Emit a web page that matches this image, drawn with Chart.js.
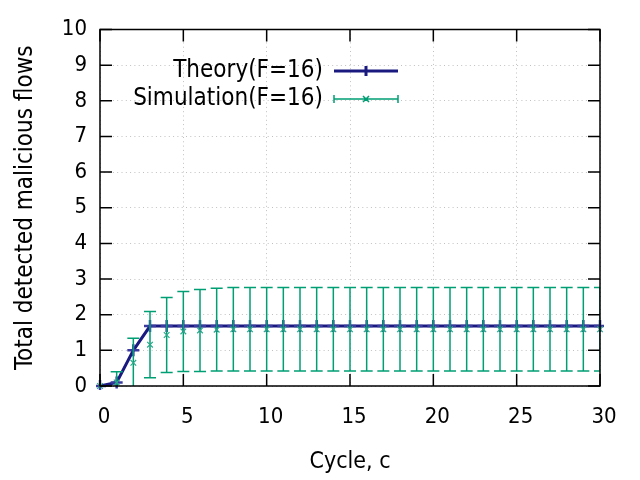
<!DOCTYPE html>
<html>
<head>
<meta charset="utf-8">
<script src="https://cdn.jsdelivr.net/npm/chart.js@4"></script>
<style>
  html, body { margin: 0; padding: 0; background: #fff; }
  #wrap { width: 640px; height: 480px; position: relative; }
</style>
</head>
<body>
<div id="wrap"><canvas id="chart"></canvas></div>
<script>
// data
const cycles = [0, 1, 2, 3, 4, 5, 6, 7, 8, 9, 10, 11, 12, 13, 14, 15,
    16, 17, 18, 19, 20, 21, 22, 23, 24, 25, 26, 27, 28, 29, 30];
const theory = [0, 0.1, 1.0, 1.68, 1.68, 1.68, 1.68, 1.68, 1.68, 1.68, 1.68,
    1.68, 1.68, 1.68, 1.68, 1.68, 1.68, 1.68, 1.68, 1.68, 1.68, 1.68, 1.68,
    1.68, 1.68, 1.68, 1.68, 1.68, 1.68, 1.68, 1.68];
const simMean = [0, 0.1, 0.65, 1.16, 1.43, 1.53, 1.56, 1.58, 1.59, 1.59, 1.59,
    1.59, 1.59, 1.59, 1.59, 1.59, 1.59, 1.59, 1.59, 1.59, 1.59, 1.59, 1.59,
    1.59, 1.59, 1.59, 1.59, 1.59, 1.59, 1.59, 1.59];
const simErr = [0, 0.3, 0.69, 0.93, 1.05, 1.12, 1.15, 1.16, 1.17, 1.17, 1.17,
    1.17, 1.17, 1.17, 1.17, 1.17, 1.17, 1.17, 1.17, 1.17, 1.17, 1.17, 1.17,
    1.17, 1.17, 1.17, 1.17, 1.17, 1.17, 1.17, 1.17];
const xTicks = [0, 5, 10, 15, 20, 25, 30];
const yTicks = [0, 1, 2, 3, 4, 5, 6, 7, 8, 9, 10];

const FONT = '"DejaVu Sans Condensed", "DejaVu Sans", sans-serif';
const BLUE = '#191980';
const GREEN = '#009e73';

// error bars for the simulation series
const errorBars = {
    id: 'errorBars',
    beforeDatasetDraw(chart, args) {
        if (args.index !== 1) return;
        const ctx = chart.ctx;
        const x = chart.scales.x;
        const y = chart.scales.y;
        const area = chart.chartArea;
        ctx.save();
        ctx.beginPath();
        ctx.rect(area.left, area.top, area.right - area.left, area.bottom - area.top);
        ctx.clip();
        ctx.strokeStyle = GREEN;
        ctx.lineWidth = 1.5;
        cycles.forEach((c, i) => {
            const px = x.getPixelForValue(c);
            const hi = y.getPixelForValue(simMean[i] + simErr[i]);
            const lo = y.getPixelForValue(simMean[i] - simErr[i]);
            ctx.beginPath();
            ctx.moveTo(px, hi); ctx.lineTo(px, lo);
            ctx.moveTo(px - 6, hi); ctx.lineTo(px + 6, hi);
            ctx.moveTo(px - 6, lo); ctx.lineTo(px + 6, lo);
            ctx.stroke();
        });
        ctx.restore();
    }
};

// gnuplot style frame with inward ticks on all four sides
const frame = {
    id: 'frame',
    afterDatasetsDraw(chart) {
        const ctx = chart.ctx;
        const a = chart.chartArea;
        const x = chart.scales.x;
        const y = chart.scales.y;
        ctx.save();
        ctx.strokeStyle = '#000';
        ctx.lineWidth = 1.5;
        ctx.beginPath();
        xTicks.forEach(v => {
            const px = x.getPixelForValue(v);
            ctx.moveTo(px, a.bottom); ctx.lineTo(px, a.bottom - 12);
            ctx.moveTo(px, a.top); ctx.lineTo(px, a.top + 12);
        });
        yTicks.forEach(v => {
            const py = y.getPixelForValue(v);
            ctx.moveTo(a.left, py); ctx.lineTo(a.left + 12, py);
            ctx.moveTo(a.right, py); ctx.lineTo(a.right - 12, py);
        });
        ctx.stroke();
        ctx.strokeRect(a.left, a.top, a.right - a.left, a.bottom - a.top);
        ctx.restore();
    }
};

// legend: text right aligned, sample to the right
const keyBox = {
    id: 'keyBox',
    afterDraw(chart) {
        const ctx = chart.ctx;
        const tx = 323, x0 = 334, x1 = 398, xm = 366;
        ctx.save();
        ctx.font = '24px ' + FONT;
        ctx.fillStyle = '#000';
        ctx.textAlign = 'right';
        ctx.textBaseline = 'middle';
        ctx.fillText(chart.data.datasets[0].label, tx, 71);
        ctx.fillText(chart.data.datasets[1].label, tx, 99);

        ctx.strokeStyle = BLUE;
        ctx.lineWidth = 3;
        ctx.beginPath();
        ctx.moveTo(x0, 71); ctx.lineTo(x1, 71);
        ctx.moveTo(xm - 5, 71); ctx.lineTo(xm + 5, 71);
        ctx.moveTo(xm, 66); ctx.lineTo(xm, 76);
        ctx.stroke();

        ctx.strokeStyle = GREEN;
        ctx.lineWidth = 1.5;
        ctx.beginPath();
        ctx.moveTo(x0, 99); ctx.lineTo(x1, 99);
        ctx.moveTo(x0, 95); ctx.lineTo(x0, 103);
        ctx.moveTo(x1, 95); ctx.lineTo(x1, 103);
        ctx.moveTo(xm - 3, 96); ctx.lineTo(xm + 3, 102);
        ctx.moveTo(xm - 3, 102); ctx.lineTo(xm + 3, 96);
        ctx.stroke();
        ctx.restore();
    }
};

const ctx = document.getElementById('chart').getContext('2d');
new Chart(ctx, {
    type: 'line',
    data: {
        datasets: [{
            label: 'Theory(F=16)',
            data: cycles.map((c, i) => ({ x: c, y: theory[i] })),
            borderColor: BLUE,
            backgroundColor: BLUE,
            borderWidth: 3,
            pointStyle: 'cross',
            pointRadius: 6,
            pointBorderWidth: 2.5,
            pointBorderColor: '#3a3aa0',
            tension: 0,
            clip: 4,
            order: 2
        }, {
            label: 'Simulation(F=16)',
            data: cycles.map((c, i) => ({ x: c, y: simMean[i] })),
            showLine: false,
            borderColor: GREEN,
            backgroundColor: GREEN,
            pointStyle: 'crossRot',
            pointRadius: 4,
            pointBorderWidth: 1.2,
            pointBorderColor: '#2aa88a',
            clip: 4,
            order: 1
        }]
    },
    options: {
        responsive: true,
        maintainAspectRatio: false,
        devicePixelRatio: 1,
        animation: false,
        layout: { padding: { left: 0, top: 29.5, right: 40, bottom: 0 } },
        plugins: {
            legend: { display: false },
            tooltip: { enabled: false }
        },
        scales: {
            x: {
                type: 'linear',
                min: 0,
                max: 30,
                afterFit(scale) { scale.height = 94; },
                afterBuildTicks(scale) { scale.ticks = xTicks.map(v => ({ value: v })); },
                ticks: {
                    color: '#000',
                    font: { family: FONT, size: 22 },
                    padding: 18,
                    labelOffset: 4,
                    maxRotation: 0
                },
                grid: { color: '#c0c0c0', lineWidth: 1, drawTicks: false },
                border: { display: false, dash: [1, 3.3] },
                title: {
                    display: true,
                    text: 'Cycle, c',
                    color: '#000',
                    font: { family: FONT, size: 23 },
                    padding: { top: 0, bottom: 4 }
                }
            },
            y: {
                type: 'linear',
                min: 0,
                max: 10,
                afterFit(scale) { scale.width = 100; },
                afterBuildTicks(scale) { scale.ticks = yTicks.map(v => ({ value: v })); },
                ticks: {
                    color: '#000',
                    font: { family: FONT, size: 22 },
                    padding: 13
                },
                grid: { color: '#c0c0c0', lineWidth: 1, drawTicks: false },
                border: { display: false, dash: [1, 3.3] },
                title: {
                    display: true,
                    text: 'Total detected malicious flows',
                    color: '#000',
                    font: { family: FONT, size: 24 },
                    padding: { top: 11, bottom: 0 }
                }
            }
        }
    },
    plugins: [errorBars, frame, keyBox]
});
</script>
</body>
</html>
